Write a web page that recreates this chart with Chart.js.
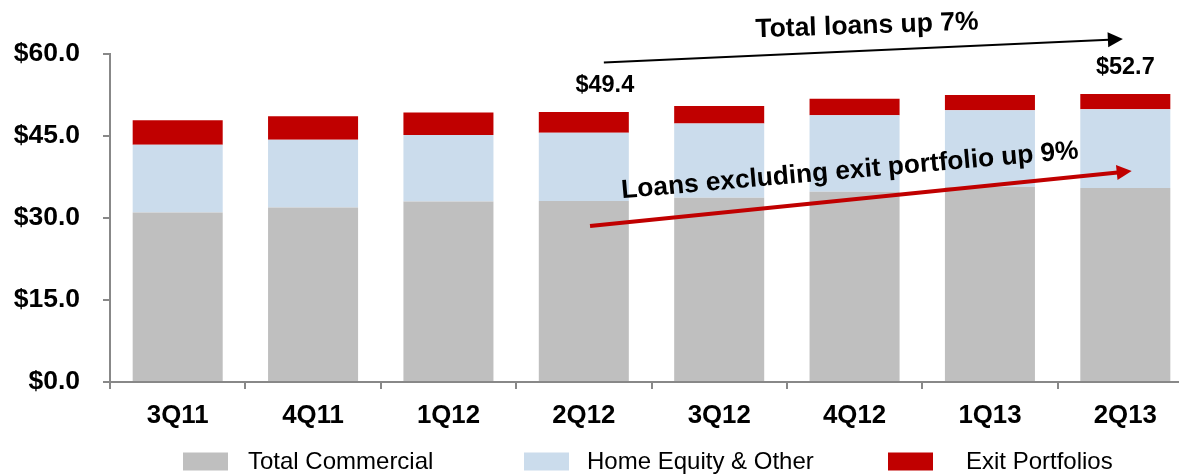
<!DOCTYPE html>
<html>
<head>
<meta charset="utf-8">
<script src="https://cdn.jsdelivr.net/npm/chart.js@4.4.1/dist/chart.umd.min.js"></script>
<style>
  html, body { margin: 0; padding: 0; background: #fff; overflow: hidden; }
  #wrap { position: absolute; left: 0; top: 0; width: 1193px; height: 475px; }
</style>
</head>
<body>
<div id="wrap"><canvas id="c"></canvas></div>
<script>
// ---- Data ----
const categories = ['3Q11', '4Q11', '1Q12', '2Q12', '3Q12', '4Q12', '1Q13', '2Q13'];
const totalCommercial = [31.0, 31.9, 33.0, 33.1, 33.7, 34.8, 35.7, 35.5];
const homeEquityOther = [12.4, 12.4, 12.2, 12.5, 13.6, 14.0, 14.0, 14.4];
const exitPortfolios  = [4.5, 4.3, 4.1, 3.8, 3.2, 3.0, 2.8, 2.8];
const seriesNames = ['Total Commercial', 'Home Equity & Other', 'Exit Portfolios'];
const yTicks = [0, 15, 30, 45, 60];
const labeledBars = [3, 7];
const totalLoansNote = 'Total loans up 7%';
const excludingNote = 'Loans excluding exit portfolio up 9%';

const FONT = "'Liberation Sans', Arial, sans-serif";
const colors = ['#BFBFBF', '#CBDCEC', '#C00000'];

function drawArrow(ctx, x0, y0, x1, y1, width, headLen, headHalf, color) {
  const ang = Math.atan2(y1 - y0, x1 - x0);
  const bx = x1 - Math.cos(ang) * headLen, by = y1 - Math.sin(ang) * headLen;
  ctx.save();
  ctx.strokeStyle = color; ctx.fillStyle = color; ctx.lineWidth = width;
  ctx.beginPath(); ctx.moveTo(x0, y0); ctx.lineTo(bx + Math.cos(ang), by + Math.sin(ang)); ctx.stroke();
  ctx.beginPath();
  ctx.moveTo(x1, y1);
  ctx.lineTo(bx - Math.sin(ang) * headHalf, by + Math.cos(ang) * headHalf);
  ctx.lineTo(bx + Math.sin(ang) * headHalf, by - Math.cos(ang) * headHalf);
  ctx.closePath(); ctx.fill();
  ctx.restore();
}

const annotations = {
  id: 'annotations',
  afterDatasetsDraw(chart) {
    const { ctx, scales: { x, y } } = chart;
    // totals above selected bars
    const labelShift = { 3: 21, 7: 0 };
    ctx.save();
    ctx.fillStyle = '#000';
    ctx.font = 'bold 23.5px ' + FONT;
    ctx.textAlign = 'center'; ctx.textBaseline = 'middle';
    labeledBars.forEach(i => {
      const total = totalCommercial[i] + homeEquityOther[i] + exitPortfolios[i];
      ctx.fillText('$' + total.toFixed(1), x.getPixelForValue(i) + labelShift[i], y.getPixelForValue(total) - 26);
    });
    ctx.restore();

    // Black arrow: total loans
    drawArrow(ctx, x.getPixelForValue(3.148), y.getPixelForValue(58.44),
                   x.getPixelForValue(6.982), y.getPixelForValue(62.74), 2, 15, 7.5, '#000');
    ctx.save();
    ctx.translate(x.getPixelForValue(5.092), y.getPixelForValue(65.1));
    ctx.rotate(-2 * Math.PI / 180);
    ctx.font = 'bold 26.5px ' + FONT; ctx.fillStyle = '#000';
    ctx.textAlign = 'center'; ctx.textBaseline = 'middle';
    ctx.fillText(totalLoansNote, 0, 0);
    ctx.restore();

    // Red arrow: excluding exit portfolio
    drawArrow(ctx, x.getPixelForValue(3.046), y.getPixelForValue(28.54),
                   x.getPixelForValue(7.047), y.getPixelForValue(38.6), 4, 15, 7.5, '#C00000');
    ctx.save();
    ctx.translate(x.getPixelForValue(4.966), y.getPixelForValue(38.6));
    ctx.rotate(-5 * Math.PI / 180);
    ctx.font = 'bold 26.3px ' + FONT; ctx.fillStyle = '#000';
    ctx.textAlign = 'center'; ctx.textBaseline = 'middle';
    ctx.fillText(excludingNote, 0, 0);
    ctx.restore();
  }
};

const customLegend = {
  id: 'customLegend',
  afterDraw(chart) {
    const { ctx } = chart;
    const items = [{ sx: 183, tx: 248 }, { sx: 524, tx: 587 }, { sx: 888, tx: 966 }];
    ctx.save();
    ctx.font = '24px ' + FONT;
    ctx.textBaseline = 'middle'; ctx.textAlign = 'left';
    chart.data.datasets.forEach((ds, i) => {
      const it = items[i];
      ctx.fillStyle = ds.backgroundColor;
      ctx.fillRect(it.sx, 452.5, 45, 18);
      ctx.fillStyle = '#000';
      ctx.fillText(ds.label, it.tx, 462.5);
    });
    ctx.restore();
  }
};

new Chart(document.getElementById('c'), {
  type: 'bar',
  data: {
    labels: categories,
    datasets: [
      { label: seriesNames[0], data: totalCommercial, backgroundColor: colors[0] },
      { label: seriesNames[1], data: homeEquityOther, backgroundColor: colors[1] },
      { label: seriesNames[2], data: exitPortfolios, backgroundColor: colors[2] }
    ]
  },
  options: {
    responsive: true,
    maintainAspectRatio: false,
    animation: false,
    layout: { padding: { top: 54, left: 0, right: 0, bottom: 0 } },
    datasets: { bar: { categoryPercentage: 1.0, barPercentage: 0.665, borderWidth: 0 } },
    plugins: { legend: { display: false }, tooltip: { enabled: false } },
    scales: {
      x: {
        stacked: true,
        grid: { drawOnChartArea: false, drawTicks: true, tickLength: 7, color: '#888', lineWidth: 2, offset: true },
        border: { display: true, color: '#888', width: 2 },
        ticks: { color: '#000', font: { family: FONT, size: 25.8, weight: 'bold' }, padding: 11, maxRotation: 0 },
        afterFit(scale) { scale.height = 93; }
      },
      y: {
        stacked: true,
        min: 0, max: 60,
        grid: { drawOnChartArea: false, drawTicks: true, tickLength: 7, color: '#888', lineWidth: 2 },
        border: { display: true, color: '#888', width: 2 },
        ticks: {
          color: '#000', font: { family: FONT, size: 26.5, weight: 'bold' }, padding: 23,
          callback: v => '$' + Number(v).toFixed(1)
        },
        afterBuildTicks(scale) { scale.ticks = yTicks.map(v => ({ value: v })); },
        afterFit(scale) { scale.width = 110; }
      }
    }
  },
  plugins: [annotations, customLegend]
});
</script>
</body>
</html>
